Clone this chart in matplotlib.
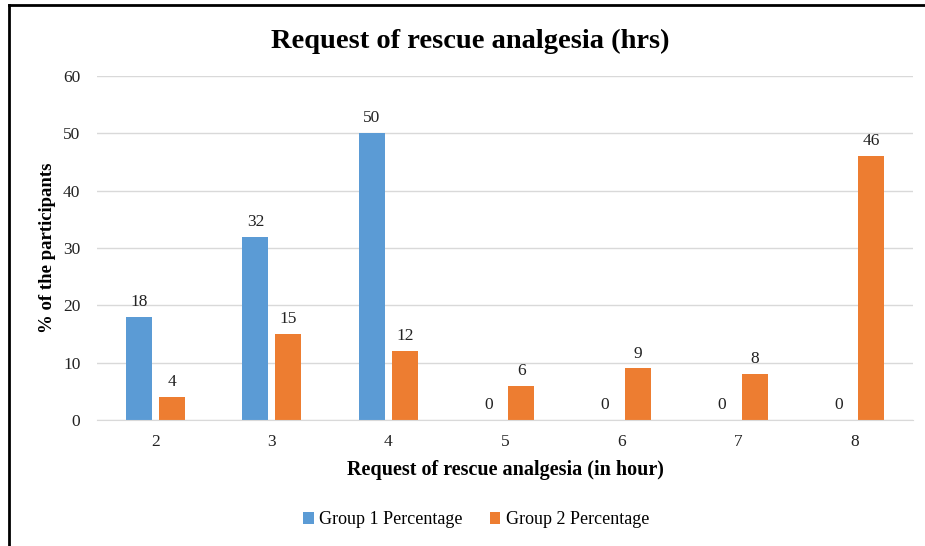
import matplotlib
matplotlib.use("Agg")
import matplotlib.pyplot as plt
from matplotlib.lines import Line2D
import numpy as np

categories = ["2", "3", "4", "5", "6", "7", "8"]
group1 = [18, 32, 50, 0, 0, 0, 0]
group2 = [4, 15, 12, 6, 9, 8, 46]
series_names = ["Group 1 Percentage", "Group 2 Percentage"]
yticks = [0, 10, 20, 30, 40, 50, 60]

plt.rcParams['font.family'] = ['Liberation Serif', 'DejaVu Serif']

W, H = 925, 546
fig = plt.figure(figsize=(W / 100, H / 100), dpi=100)
ax = fig.add_axes([97 / W, 1 - 420 / H, (913 - 97) / W, (420 - 76) / H])

x = np.arange(len(categories))
bw = 0.223
off = 0.141
c1, c2 = "#5B9BD5", "#ED7D31"
b1 = ax.bar(x - off, group1, bw, color=c1, label=series_names[0], zorder=3)
b2 = ax.bar(x + off, group2, bw, color=c2, label=series_names[1], zorder=3)
for bars in (b1, b2):
    for r in bars:
        h = r.get_height()
        ax.text(r.get_x() + r.get_width() / 2, h + 1.2, f"{int(h)}",
                ha="center", va="bottom", fontsize=12.5, color="#222222")

ax.set_xlim(-0.5, len(categories) - 0.5)
ax.set_ylim(0, 60)
ax.set_yticks(yticks)
ax.set_xticks(x)
ax.set_xticklabels(categories)
ax.tick_params(axis="both", length=0, labelsize=12.5, colors="#222222")
ax.tick_params(axis="y", pad=12)
ax.tick_params(axis="x", pad=10)
ax.grid(axis="y", color="#D9D9D9", linewidth=1, zorder=0)
for s in ["top", "right", "left"]:
    ax.spines[s].set_visible(False)
ax.spines["bottom"].set_color("#D9D9D9")
ax.spines["bottom"].set_zorder(4)

ax.set_xlabel("Request of rescue analgesia (in hour)", fontsize=14.5,
              fontweight="bold", labelpad=7)
ax.set_ylabel("% of the participants", fontsize=13.5, fontweight="bold",
              labelpad=5)

fig.text(470 / W, 1 - 41 / H, "Request of rescue analgesia (hrs)", ha="center",
         va="center", fontsize=20.5, fontweight="bold")

fig.legend(handles=[b1, b2], labels=series_names, loc="center",
           bbox_to_anchor=(476 / W, 1 - 520 / H), ncol=2, frameon=False,
           fontsize=13, handlelength=0.6, handleheight=0.6,
           handletextpad=0.3, columnspacing=1.5)

# outer border (top and left visible)
fig.add_artist(Line2D([8.5 / W, 1.0], [1 - 4.5 / H, 1 - 4.5 / H],
                      transform=fig.transFigure, color="black", linewidth=2))
fig.add_artist(Line2D([8.5 / W, 8.5 / W], [0, 1 - 4.5 / H],
                      transform=fig.transFigure, color="black", linewidth=2))

fig.savefig("out.png", dpi=100)
